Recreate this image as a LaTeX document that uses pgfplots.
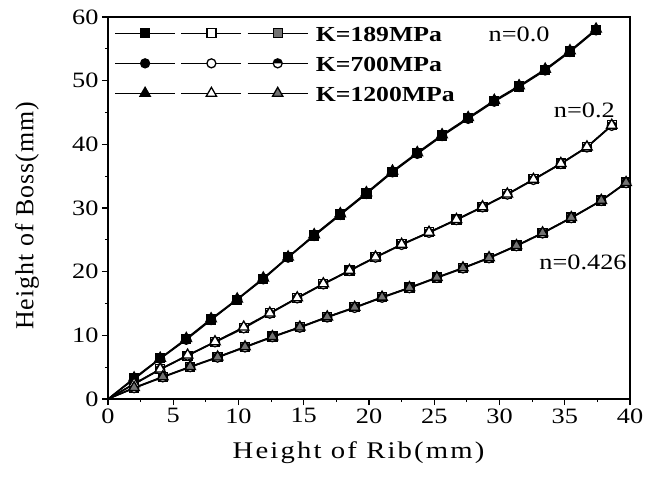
\documentclass[border=0pt]{standalone}
\usepackage{fontspec}
\setmainfont{Liberation Serif}[FakeStretch=1.2]
\newfontfamily\yfont{Liberation Serif}[LetterSpace=4]
\usepackage{pgfplots}
\usepackage{pgfplotstable}
\pgfplotsset{compat=1.18}

\pgfplotstableread{
x yA yB yC
0 0 0 0
2.0 3.2 3.1 3.3
4.0 6.4 6.3 6.4
6.0 9.4 9.3 9.5
7.9 12.5 12.4 12.6
9.9 15.6 15.6 15.7
11.9 18.9 18.8 19.0
13.8 22.3 22.2 22.3
15.8 25.7 25.6 25.8
17.8 29.0 28.9 29.1
19.8 32.3 32.2 32.4
21.8 35.7 35.6 35.8
23.7 38.6 38.5 38.7
25.6 41.4 41.3 41.5
27.6 44.1 44.0 44.2
29.6 46.8 46.7 46.9
31.5 49.1 49.0 49.2
33.5 51.7 51.6 51.8
35.4 54.6 54.5 54.7
37.4 58.0 57.9 58.1
}\nzero

\pgfplotstableread{
x yA yB yC
0 0 0 0
2.0 2.4 2.3 2.4
4.0 4.7 4.6 4.7
6.1 6.8 6.8 6.9
8.2 9.0 8.9 9.0
10.4 11.2 11.1 11.3
12.4 13.5 13.4 13.5
14.5 15.9 15.8 15.9
16.5 18.1 18.0 18.1
18.5 20.2 20.1 20.2
20.5 22.3 22.2 22.3
22.5 24.3 24.2 24.3
24.6 26.2 26.1 26.2
26.7 28.2 28.1 28.2
28.7 30.2 30.1 30.2
30.6 32.2 32.1 32.2
32.6 34.5 34.4 34.5
34.7 37.0 36.9 37.0
36.7 39.6 39.5 39.6
38.6 43.0 42.9 43.0
}\ntwo

\pgfplotstableread{
x yA yB yC
0 0 0 0
2.0 1.7 1.7 1.8
4.2 3.5 3.4 3.5
6.3 5.0 5.0 5.1
8.4 6.6 6.5 6.6
10.5 8.2 8.1 8.2
12.6 9.8 9.7 9.8
14.7 11.3 11.2 11.3
16.8 12.9 12.8 12.9
18.9 14.4 14.3 14.4
21.0 16.0 15.9 16.0
23.1 17.5 17.4 17.5
25.2 19.1 19.0 19.1
27.2 20.6 20.5 20.6
29.2 22.2 22.1 22.2
31.3 24.1 24.0 24.1
33.3 26.1 26.0 26.1
35.5 28.5 28.4 28.5
37.8 31.2 31.1 31.2
39.7 34.0 33.9 34.0
}\nfour

\pgfplotsset{
  ser/.style={black, line width=1.3bp, mark phase=2, mark repeat=1,
    mark options={solid, line width=1bp}},
}

\begin{document}
\begin{tikzpicture}
\path (-108bp,-82bp) rectangle (548bp,399bp);
\begin{axis}[
  at={(0,0)}, anchor=south west,
  scale only axis, width=522bp, height=382bp,
  xmin=0, xmax=40, ymin=0, ymax=60,
  xtick={0,5,...,40}, ytick={0,10,...,60},
  minor x tick num=1, minor y tick num=1,
  tick align=outside, tick pos=left,
  major tick length=6bp, minor tick length=3bp,
  tick style={line width=1.2bp, black},
  axis line style={line width=1.6bp},
  ticklabel style={font=\fontsize{22}{24}\selectfont},
  /pgf/number format/assume math mode=true,
  xlabel={\fontsize{24}{28}\selectfont\addfontfeature{LetterSpace=9}Height of Rib(mm)},
  ylabel={\yfont\fontsize{26}{30}\selectfont Height of Boss(mm)},
  xlabel style={at={(axis description cs:0.48,-0.141)}, anchor=center, inner sep=0pt},
  ylabel style={at={(axis description cs:-0.155,0.48)}, anchor=center, inner sep=0pt},
  legend columns=3,
  legend cell align=left,
  legend image code/.code={%
    \draw[#1, mark repeat=2, mark phase=2] plot coordinates {(0bp,0bp) (30bp,0bp) (60bp,0bp)};},
  legend style={at={(axis description cs:0.012,0.997)}, anchor=north west,
    draw=none, fill=none, inner sep=0pt,
    row sep=0pt, column sep=0pt,
    nodes={inner xsep=2.5bp, inner ysep=0pt, text height=23.5bp, text depth=6.5bp,
      font=\bfseries\fontsize{21.5}{24}\selectfont}},
]
% K=189MPa
\addplot[ser, mark=square*, mark size=4.5bp, mark options={fill=black}] table[x=x,y=yA]{\nzero};
\addlegendentry{}
\addplot[ser, mark=square*, mark size=4.5bp, mark options={fill=white}] table[x=x,y=yA]{\ntwo};
\addlegendentry{}
\addplot[ser, mark=square*, mark size=4.5bp, mark options={fill=black!55}] table[x=x,y=yA]{\nfour};
\addlegendentry{\hspace{5bp}K=189MPa}
% K=700MPa
\addplot[ser, mark=*, mark size=4.5bp, mark options={fill=black}] table[x=x,y=yB]{\nzero};
\addlegendentry{}
\addplot[ser, mark=*, mark size=4.5bp, mark options={fill=white}] table[x=x,y=yB]{\ntwo};
\addlegendentry{}
\addplot[ser, mark=halfcircle*, mark size=4.5bp, mark options={fill=black, mark color=white}] table[x=x,y=yB]{\nfour};
\addlegendentry{\hspace{5bp}K=700MPa}
% K=1200MPa
\addplot[ser, mark=triangle*, mark size=6bp, mark options={fill=black}] table[x=x,y=yC]{\nzero};
\addlegendentry{}
\addplot[ser, mark=triangle*, mark size=6bp, mark options={fill=white}] table[x=x,y=yC]{\ntwo};
\addlegendentry{}
\addplot[ser, mark=triangle*, mark size=6bp, mark options={fill=black!55}] table[x=x,y=yC]{\nfour};
\addlegendentry{\hspace{5bp}K=1200MPa}

\node[font=\fontsize{22}{24}\selectfont] at (axis cs:31.5,57.2) {n=0.0};
\node[font=\fontsize{22}{24}\selectfont] at (axis cs:36.5,45.4) {n=0.2};
\node[font=\fontsize{22}{24}\selectfont] at (axis cs:36.4,21.4) {n=0.426};
\end{axis}
\end{tikzpicture}
\end{document}
